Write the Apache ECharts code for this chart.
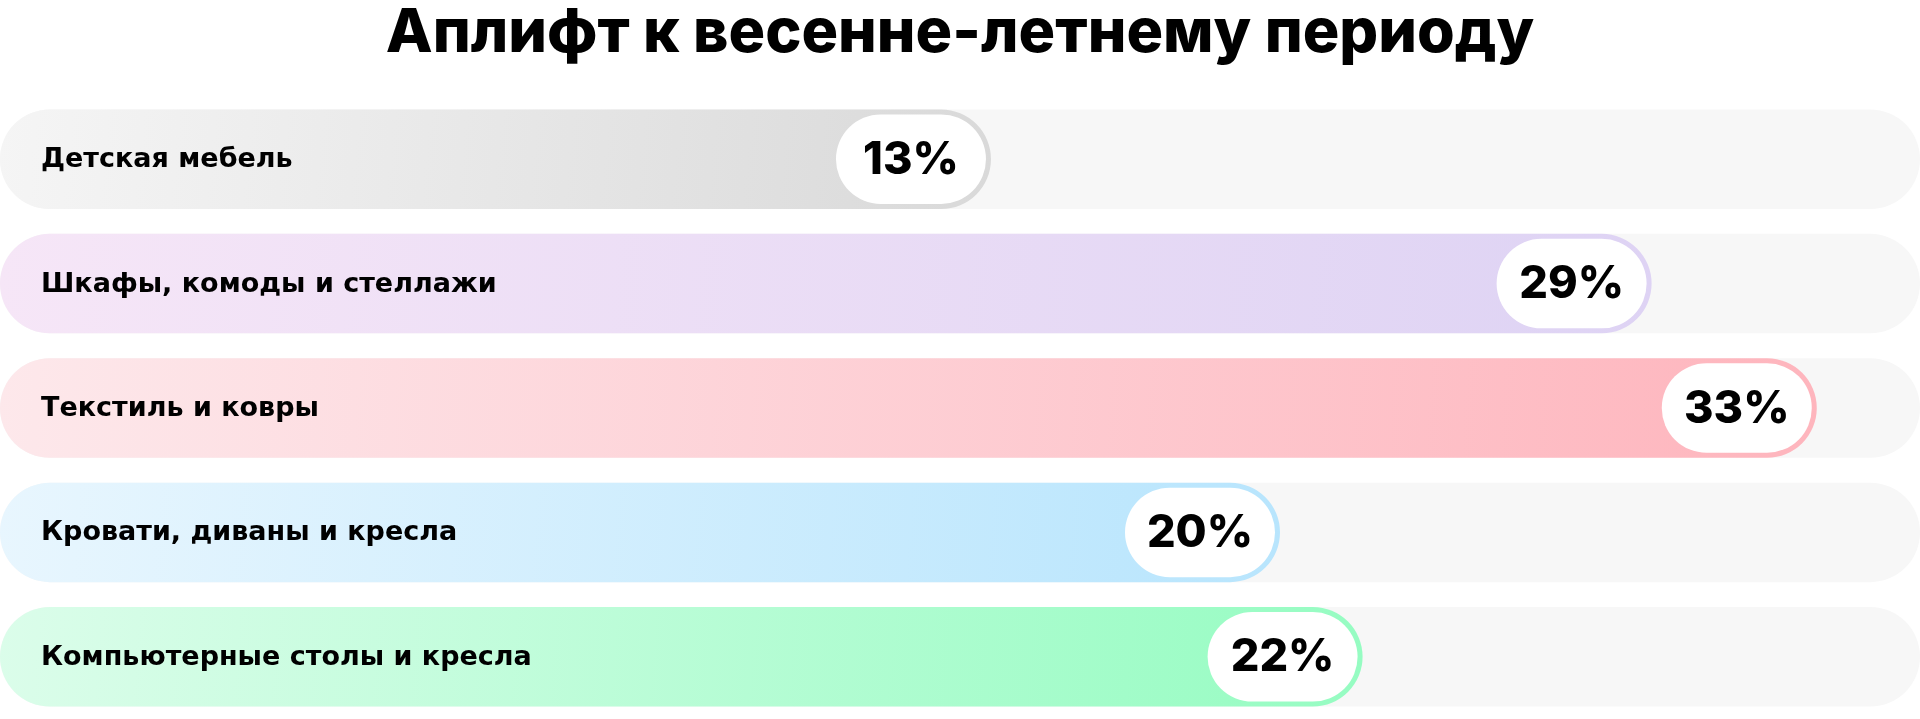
<!DOCTYPE html>
<html>
<head>
<meta charset="utf-8">
<script src="https://cdn.jsdelivr.net/npm/echarts@6/dist/echarts.min.js"></script>
<style>
  html, body { margin: 0; padding: 0; background: #ffffff; }
  #chart { width: 1920px; height: 719px; }
</style>
</head>
<body>
<div id="chart"></div>
<script>
const titleText = 'Аплифт к весенне-летнему периоду';
const categories = [
  'Детская мебель',
  'Шкафы, комоды и стеллажи',
  'Текстиль и ковры',
  'Кровати, диваны и кресла',
  'Компьютерные столы и кресла'
];
const upliftValues = [13, 29, 33, 20, 22];
const gradientStart = ['#f5f5f5', '#f6e6f7', '#fde8eb', '#e8f6fe', '#dbfdea'];
const gradientEnd   = ['#d9d9d9', '#ded3f4', '#feb5bd', '#b8e5fd', '#96fcc2'];

const FONT = 'Inter, "Noto Sans", sans-serif';
const LABEL_FONT = '"DejaVu Sans", Inter, sans-serif';

const chart = echarts.init(document.getElementById('chart'), null, { renderer: 'canvas' });

const seriesData = upliftValues.map((v, i) => [v, i]);

chart.setOption({
  backgroundColor: '#ffffff',
  animation: false,
  title: {
    text: titleText,
    left: 'center',
    top: -2,
    textStyle: {
      fontFamily: FONT,
      fontSize: 61,
      fontWeight: 800,
      color: '#000000',
      lineHeight: 61
    }
  },
  grid: { left: 0, right: 0, top: 97, height: 624, containLabel: false },
  xAxis: {
    type: 'value',
    min: -11,
    max: 35.5,
    show: false
  },
  yAxis: {
    type: 'category',
    data: categories,
    inverse: true,
    show: false
  },
  series: [{
    type: 'custom',
    encode: { x: 0, y: 1 },
    data: seriesData,
    renderItem: function (params, api) {
      const idx = params.dataIndex;
      const v = api.value(0);
      const endPt = api.coord([v, api.value(1)]);
      const band = api.size([0, 1])[1];
      const h = band * 0.8;
      const cs = params.coordSys;
      const x0 = cs.x;
      const xEnd = endPt[0];
      const yc = endPt[1];
      const top = yc - h / 2;
      const inset = 5;
      const pillW = 150;
      const pillH = h - inset * 2;
      return {
        type: 'group',
        children: [
          {
            type: 'rect',
            shape: { x: x0, y: top, width: cs.width, height: h, r: h / 2 },
            style: { fill: '#f7f7f7' }
          },
          {
            type: 'rect',
            shape: { x: x0, y: top, width: xEnd - x0, height: h, r: h / 2 },
            style: {
              fill: new echarts.graphic.LinearGradient(0, 0, 1, 1, [
                { offset: 0, color: gradientStart[idx] },
                { offset: 1, color: gradientEnd[idx] }
              ])
            }
          },
          {
            type: 'rect',
            shape: { x: xEnd - inset - pillW, y: top + inset, width: pillW, height: pillH, r: pillH / 2 },
            style: { fill: '#ffffff' }
          },
          {
            type: 'text',
            style: {
              x: xEnd - inset - pillW / 2,
              y: yc + 1,
              text: v + '%',
              fill: '#000000',
              fontFamily: FONT,
              fontSize: 45,
              fontWeight: 800,
              align: 'center',
              verticalAlign: 'middle'
            }
          },
          {
            type: 'text',
            style: {
              x: 41,
              y: yc + 1,
              text: categories[idx],
              fill: '#000000',
              fontFamily: LABEL_FONT,
              fontSize: 27,
              fontWeight: 'bold',
              align: 'left',
              verticalAlign: 'middle'
            }
          }
        ]
      };
    }
  }]
});
</script>
</body>
</html>
